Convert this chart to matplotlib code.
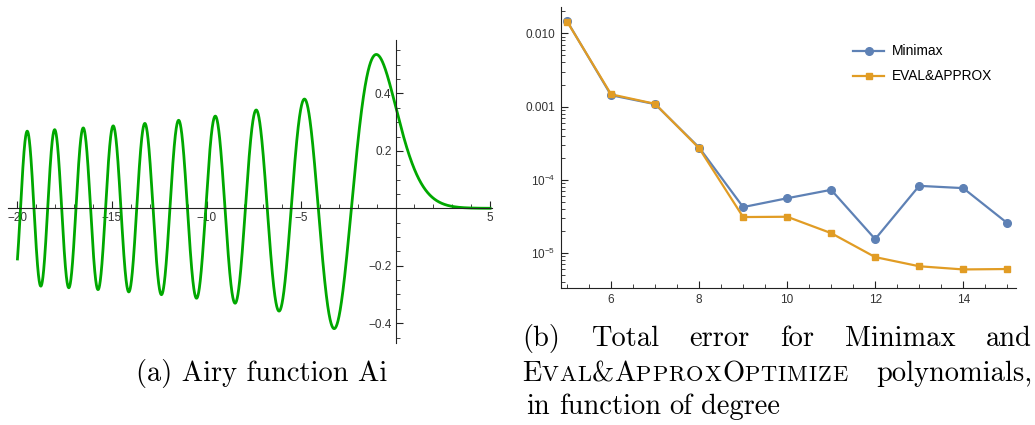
import numpy as np
import matplotlib
matplotlib.use("Agg")
import matplotlib.pyplot as plt
from matplotlib.ticker import MultipleLocator, FixedLocator, FixedFormatter, LogLocator, NullFormatter

W, H = 1035, 425

# (a) Airy function Ai(x): initial values at x = 0 and plotted range
AI_0 = 0.355028053887817
AI_PRIME_0 = -0.258819403792807
x_range = (-20.0, 5.0)

# (b) total error vs polynomial degree
degree = [5, 6, 7, 8, 9, 10, 11, 12, 13, 14, 15]
minimax = [0.0147, 0.00143, 0.00108, 2.76e-4, 4.24e-5, 5.6e-5, 7.3e-5,
           1.55e-5, 8.27e-5, 7.7e-5, 2.57e-5]
eval_approx = [0.0145, 0.00147, 0.00109, 2.7e-4, 3.1e-5, 3.13e-5, 1.87e-5,
               8.8e-6, 6.6e-6, 5.97e-6, 6.05e-6]
series_labels = ["Minimax", "EVAL&APPROX"]
y_tick_vals = [0.01, 0.001, 1e-4, 1e-5]
y_tick_labels = ["0.010", "0.001", r"$10^{-4}$", r"$10^{-5}$"]

GREEN = "#00a800"
BLUE = "#5e81b5"
ORANGE = "#e19c24"
TICK_COLOR = "#333333"

plt.rcParams["font.family"] = ["Liberation Sans", "DejaVu Sans"]
plt.rcParams["mathtext.fontset"] = "custom"
plt.rcParams["mathtext.rm"] = "Liberation Sans"
plt.rcParams["mathtext.it"] = "Liberation Sans:italic"
plt.rcParams["mathtext.bf"] = "Liberation Sans:bold"
plt.rcParams["mathtext.default"] = "regular"


def airy_ai(x_end, n):
    # RK4 on y'' = x y starting from Ai(0), Ai'(0)
    xs = np.linspace(0.0, x_end, n)
    h = xs[1] - xs[0]
    y = np.empty(n)
    yp = np.empty(n)
    y[0], yp[0] = AI_0, AI_PRIME_0
    for i in range(n - 1):
        x = xs[i]
        k1y, k1p = yp[i], x * y[i]
        k2y, k2p = yp[i] + 0.5 * h * k1p, (x + 0.5 * h) * (y[i] + 0.5 * h * k1y)
        k3y, k3p = yp[i] + 0.5 * h * k2p, (x + 0.5 * h) * (y[i] + 0.5 * h * k2y)
        k4y, k4p = yp[i] + h * k3p, (x + h) * (y[i] + h * k3y)
        y[i + 1] = y[i] + h / 6 * (k1y + 2 * k2y + 2 * k3y + k4y)
        yp[i + 1] = yp[i] + h / 6 * (k1p + 2 * k2p + 2 * k3p + k4p)
    return xs, y


xl, yl = airy_ai(x_range[0], 20001)
xr, yr = airy_ai(x_range[1], 5001)
x_ai = np.concatenate([xl[::-1], xr[1:]])
y_ai = np.concatenate([yl[::-1], yr[1:]])

fig = plt.figure(figsize=(W / 100, H / 100), dpi=100)

# ---------------- (a) ----------------
ax1 = fig.add_axes([8 / W, (H - 343) / H, 484 / W, 303 / H])
ax1.plot(x_ai, y_ai, color=GREEN, lw=2.0)
ax1.set_xlim(-20.5, 5.1)
ax1.set_ylim(-0.469, 0.586)
for s in ["top", "right"]:
    ax1.spines[s].set_visible(False)
ax1.spines["left"].set_position(("data", 0))
ax1.spines["bottom"].set_position(("data", 0))
for s in ["left", "bottom"]:
    ax1.spines[s].set_linewidth(0.8)
    ax1.spines[s].set_color("#222222")
ax1.set_xticks([-20, -15, -10, -5, 5])
ax1.set_xticklabels(["\u221220", "\u221215", "\u221210", "\u22125", "5"])
ax1.xaxis.set_minor_locator(MultipleLocator(1))
ax1.set_yticks([-0.4, -0.2, 0.2, 0.4])
ax1.set_yticklabels(["\u22120.4", "\u22120.2", "0.2", "0.4"])
ax1.yaxis.set_minor_locator(MultipleLocator(0.05))
ax1.tick_params(which="major", direction="in", length=5, width=0.8,
                labelsize=8.5, labelcolor=TICK_COLOR, color="#222222", pad=3)
ax1.tick_params(which="minor", direction="in", length=3, width=0.6, color="#222222")
ax1.patch.set_visible(False)

# ---------------- (b) ----------------
ax2 = fig.add_axes([560.7 / W, (H - 288.3) / H, 455.3 / W, 281.3 / H])
ax2.plot(degree, minimax, color=BLUE, lw=1.6, marker="o", ms=5.5,
         label=series_labels[0])
ax2.plot(degree, eval_approx, color=ORANGE, lw=1.6, marker="s", ms=3.8,
         label=series_labels[1])
ax2.set_yscale("log")
ax2.set_xlim(4.855, 15.2)
ax2.set_ylim(3.3e-6, 0.0229)
for s in ["top", "right"]:
    ax2.spines[s].set_visible(False)
for s in ["left", "bottom"]:
    ax2.spines[s].set_linewidth(0.8)
    ax2.spines[s].set_color("#222222")
ax2.set_xticks([6, 8, 10, 12, 14])
ax2.xaxis.set_minor_locator(MultipleLocator(0.5))
ax2.yaxis.set_major_locator(FixedLocator(y_tick_vals))
ax2.yaxis.set_major_formatter(FixedFormatter(y_tick_labels))
ax2.yaxis.set_minor_locator(LogLocator(base=10, subs=np.arange(2, 10)))
ax2.yaxis.set_minor_formatter(NullFormatter())
ax2.tick_params(which="major", direction="in", length=5, width=0.8,
                labelsize=8.5, labelcolor=TICK_COLOR, color="#222222", pad=4)
ax2.tick_params(which="minor", direction="in", length=3, width=0.6, color="#222222")
ax2.patch.set_visible(False)
leg = ax2.legend(loc="upper left", bbox_to_anchor=(841 / W, 1 - 32 / H),
                 bbox_transform=fig.transFigure, frameon=False, fontsize=9.9,
                 handlelength=2.2, handletextpad=0.6, labelspacing=0.8)

# ---------------- captions ----------------
CAP_FONT = "cmr10"
CAP_SIZE = 20.5
renderer = fig.canvas.get_renderer()


def ink_width(text, size):
    t = fig.text(0, 0, text, fontsize=size, family=CAP_FONT)
    w = t.get_window_extent(renderer).width
    t.remove()
    return w


def seg_width(text, size, track=0.0):
    # advance width: wrap in "I" so side bearings are counted
    if track:
        return sum(seg_width(c, size) + track for c in text)
    return ink_width("I" + text + "I", size) - ink_width("II", size)


def word_width(word):
    return sum(seg_width(*seg) for seg in word)


def draw_word(word, x, y_base):
    for seg in word:
        t, s = seg[0], seg[1]
        track = seg[2] if len(seg) > 2 else 0.0
        pieces = list(t) if track else [t]
        for p in pieces:
            fig.text(x / W, 1 - y_base / H, p, fontsize=s, family=CAP_FONT,
                     va="baseline", ha="left")
            x += seg_width(p, s) + track


def draw_line(words, x0, x1, y_base, justify=True):
    widths = [word_width(w) for w in words]
    if justify and len(words) > 1:
        gap = (x1 - x0 - sum(widths)) / (len(words) - 1)
    else:
        gap = 0.30 * CAP_SIZE * 100 / 72
    x = x0
    for w, wd in zip(words, widths):
        draw_word(w, x, y_base)
        x += wd + gap


S = CAP_SIZE
sc = 0.79 * S
tr = 1.0
fig.text(262 / W, 1 - 381 / H, "(a) Airy function Ai", fontsize=S,
         family=CAP_FONT, va="baseline", ha="center")

line1 = [[(w, S)] for w in ["(b)", "Total", "error", "for", "Minimax", "and"]]
line2 = [[("E", S), ("VAL", sc, tr), ("&", S), ("A", S), ("PPROX", sc, tr),
          ("O", S), ("PTIMIZE", sc, tr)], [("polynomials,", S)]]
line3 = [[(w, S)] for w in ["in", "function", "of", "degree"]]
draw_line(line1, 522, 1032, 346)
draw_line(line2, 522, 1032, 381)
draw_line(line3, 526.5, 1032, 414, justify=False)

fig.savefig("out.png", dpi=100)
